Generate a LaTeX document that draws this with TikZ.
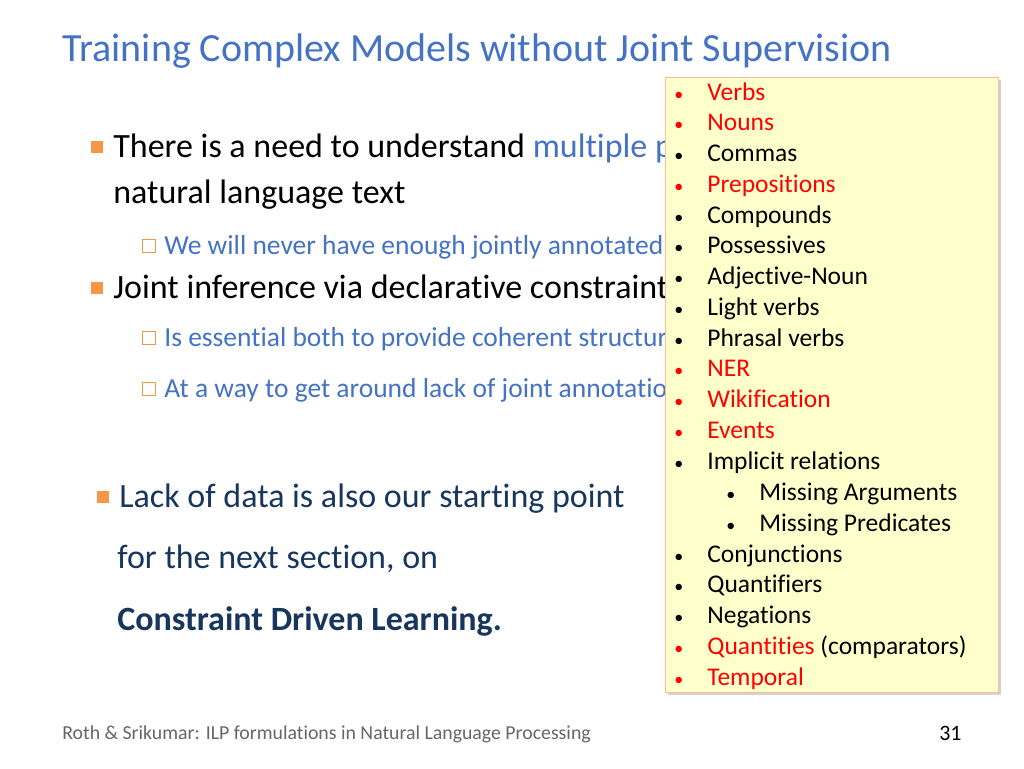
\documentclass[tikz,border=0pt]{standalone}
\usepackage{fontspec}
\setmainfont[Ligatures=NoCommon]{Carlito}
\usetikzlibrary{shadows}
\definecolor{titleblue}{RGB}{68,114,196}
\definecolor{darkblue}{RGB}{23,54,93}
\definecolor{sqorange}{RGB}{247,150,70}
\definecolor{boxfill}{RGB}{255,255,204}
\definecolor{boxline}{RGB}{250,190,140}
\newcommand{\bul}{{\fontsize{18}{18}\selectfont•}}
\tikzset{every picture/.style={line width=0.75pt}}
\tikzset{
  txt/.style={anchor=base west,inner sep=0pt,font=\fontsize{34}{36}\selectfont},
  subtxt/.style={anchor=base west,inner sep=0pt,font=\fontsize{27.5}{29}\selectfont,text=titleblue},
  item/.style={anchor=base west,inner sep=0pt,font=\fontsize{25.5}{27}\selectfont},
  sq/.style={fill=sqorange,minimum size=12pt,inner sep=0pt},
  hsq/.style={draw=sqorange,line width=0.8pt,minimum size=13pt,inner sep=0pt}
}
\begin{document}
\begin{tikzpicture}[x=1pt,y=1pt,yscale=-1]
\useasboundingbox (0,0) rectangle (1024,768);

% Title
\node[anchor=base west,inner sep=0pt,font=\fontsize{40}{42}\selectfont,text=titleblue] (title) at (62,62) {Training Complex Models without Joint Supervision};

% Main bullets
\node[sq] (s1) at (97,147) {};
\node[txt] (t1) at (113,157) {There is a need to understand \textcolor{titleblue}{multiple phenomena} in};
\node[txt] (t1b) at (113,203) {natural language text};
\node[hsq] (h1) at (149,246) {};
\node[subtxt] (u1) at (164,254) {We will never have enough jointly annotated data};
\node[sq] (s2) at (97,288) {};
\node[txt] (t2) at (113,298) {Joint inference via declarative constraints};
\node[hsq] (h2) at (149,338) {};
\node[subtxt] (u2) at (164,346) {Is essential both to provide coherent structures};
\node[hsq] (h3) at (149,389) {};
\node[subtxt] (u3) at (164,397) {At a way to get around lack of joint annotation};

\node[sq] (s3) at (103,497) {};
\node[txt,text=darkblue] (t3) at (119,507) {Lack of data is also our starting point};
\node[txt,text=darkblue] (t4) at (117,568) {for the next section, on};
\node[txt,text=darkblue,font=\fontsize{34}{36}\selectfont\bfseries] (t5) at (117,630) {Constraint Driven Learning.};

% Phenomena box
\fill[black!35,opacity=0.5] (668,80) rectangle (1001,695);
\draw[boxline,fill=boxfill] (665,77) rectangle (998,692);
\foreach \txt/\col [count=\i] in {Verbs/red,Nouns/red,Commas/black,Prepositions/red,Compounds/black,Possessives/black,Adjective-Noun/black,Light verbs/black,Phrasal verbs/black,NER/red,Wikification/red,Events/red,Implicit relations/black}
  \node[item,text=\col] (p\i) at (674,100+30.75*\i-30.75) {\bul\hspace{24pt}\txt};
\node[item] (m1) at (726,500.5) {\bul\hspace{24pt}Missing Arguments};
\node[item] (m2) at (726,531.2) {\bul\hspace{24pt}Missing Predicates};
\foreach \txt/\col [count=\i] in {Conjunctions/black,Quantifiers/black,Negations/black,{Quantities \textcolor{black}{(comparators)}}/red,Temporal/red}
  \node[item,text=\col] (q\i) at (674,562+30.75*\i-30.75) {\bul\hspace{24pt}\txt};

% Footer
\node[anchor=base west,inner sep=0pt,font=\fontsize{19.8}{21}\selectfont,text=black!60] (foot) at (62,739) {Roth \& Srikumar: ILP formulations in Natural Language Processing};
\node[anchor=base east,inner sep=0pt,font=\fontsize{22}{24}\selectfont] (num) at (962,740) {31};
\end{tikzpicture}
\end{document}
